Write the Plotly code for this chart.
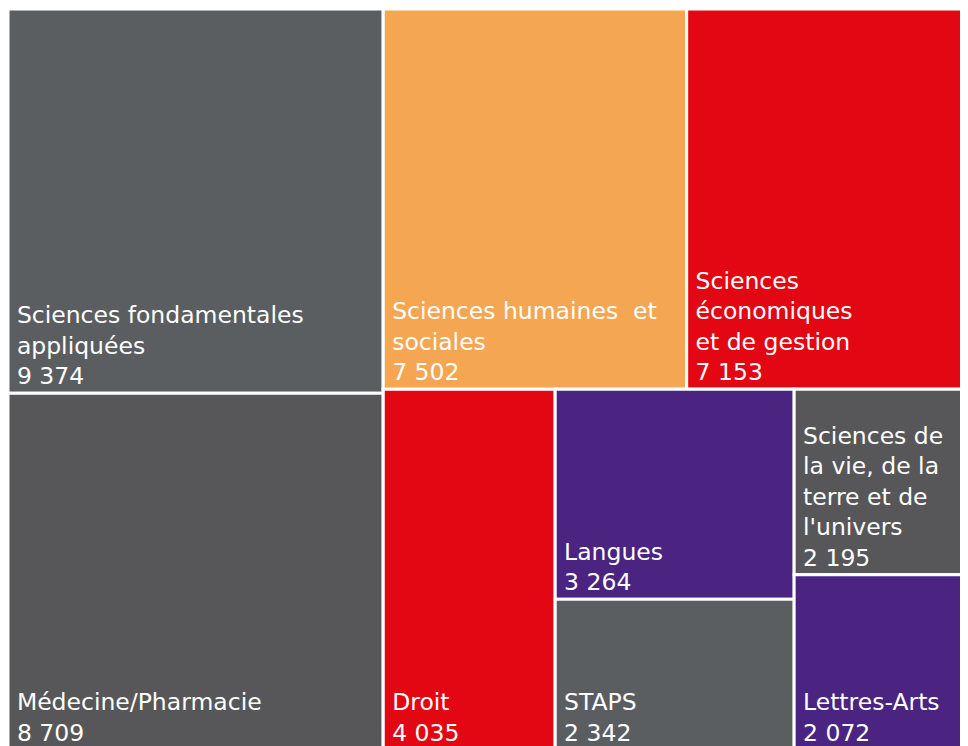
import plotly.graph_objects as go

# ---- data ----
categories = [
    "Sciences fondamentales appliquées",
    "Médecine/Pharmacie",
    "Sciences humaines et sociales",
    "Sciences économiques et de gestion",
    "Droit",
    "Langues",
    "STAPS",
    "Sciences de la vie, de la terre et de l'univers",
    "Lettres-Arts",
]
display_lines = [
    ["Sciences fondamentales", "appliquées"],
    ["Médecine/Pharmacie"],
    ["Sciences humaines  et", "sociales"],
    ["Sciences", "économiques", "et de gestion"],
    ["Droit"],
    ["Langues"],
    ["STAPS"],
    ["Sciences de", "la vie, de la", "terre et de", "l'univers"],
    ["Lettres-Arts"],
]
values = [9374, 8709, 7502, 7153, 4035, 3264, 2342, 2195, 2072]
colors = ["#5b5e61", "#575759", "#f5a652", "#e30613", "#e30613",
          "#4a2480", "#5b5e61", "#575759", "#4a2480"]

# grouping used to reproduce the slice/dice arrangement
group_ids = ["gauche", "droite", "haut", "bas", "bas_2", "bas_3"]
group_parents = ["", "", "droite", "droite", "bas", "bas"]
leaf_parents = ["gauche", "gauche", "haut", "haut", "bas", "bas_2", "bas_2", "bas_3", "bas_3"]
# order of nodes (groups referenced by name, leaves by index)
node_order = ["gauche", 0, 1, "droite", "haut", 2, 3, "bas", 4, "bas_2", 5, 6, "bas_3", 7, 8]


def fmt(v):
    return f"{v:,}".replace(",", " ")


INDENT = "\u2005"

ids, labels, parents, vals, texts, cols = [], [], [], [], [], []
for n in node_order:
    if isinstance(n, str):
        gi = group_ids.index(n)
        ids.append(n)
        labels.append(n)
        parents.append(group_parents[gi])
        vals.append(0)
        texts.append("")
        cols.append("#ffffff")
    else:
        ids.append(categories[n])
        labels.append(categories[n])
        parents.append(leaf_parents[n])
        vals.append(values[n])
        lines = display_lines[n] + [fmt(values[n])]
        texts.append("<br>".join(INDENT + ln for ln in lines))
        cols.append(colors[n])

fig = go.Figure(go.Treemap(
    ids=ids,
    labels=labels,
    parents=parents,
    values=vals,
    branchvalues="remainder",
    text=texts,
    textinfo="text",
    textposition="bottom left",
    textfont=dict(family="DejaVu Sans", size=23.5, color="white"),
    marker=dict(colors=cols, line=dict(color="white", width=3),
                pad=dict(t=0, l=0, r=0, b=0), depthfade=False),
    tiling=dict(packing="slice-dice", pad=0),
    pathbar=dict(visible=False),
    sort=False,
    hoverinfo="label+value",
))

fig.update_layout(
    width=968, height=746,
    margin=dict(l=0, r=0, t=1, b=4),
    paper_bgcolor="white",
    font=dict(family="DejaVu Sans"),
)

fig.write_html(
    "out.html",
    post_script="document.documentElement.style.overflow='hidden';"
                "document.body.style.overflow='hidden';",
)
